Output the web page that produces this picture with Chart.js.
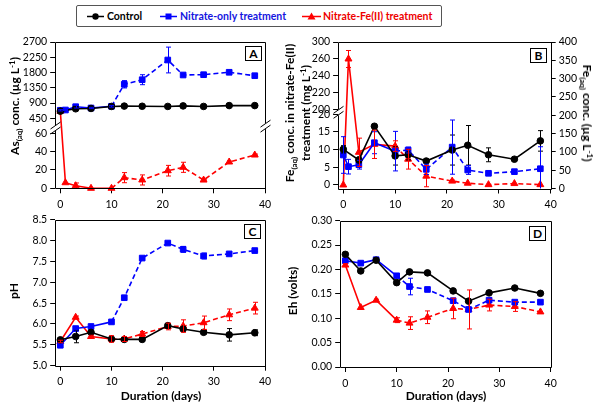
<!DOCTYPE html>
<html><head><meta charset="utf-8">
<script src="https://cdn.jsdelivr.net/npm/chart.js@4.4.1/dist/chart.umd.min.js"></script>
<style>
body{margin:0;width:600px;height:409px;position:relative;background:#fff;font-family:Lato,"Open Sans",sans-serif;overflow:hidden}
canvas{position:absolute;left:0;top:0}
.t{position:absolute;white-space:nowrap;font-weight:bold;font-size:12px;color:#000;line-height:16px;text-align:center}
.rl{transform:translate(-50%,-50%) rotate(-90deg)}
.rr{transform:translate(-50%,-50%) rotate(90deg)}
.c{transform:translate(-50%,-50%)}
sub,sup{font-size:8px;line-height:0;position:relative;vertical-align:baseline}
sub{top:2.5px}
sup{top:-4.5px}
.pl{position:absolute;box-sizing:border-box;border:1.5px solid #000;font-weight:bold;font-size:12px;line-height:12px;display:flex;align-items:center;justify-content:center;background:#fff}
#legend{position:absolute;left:76px;top:5px;width:366px;height:22px;box-sizing:border-box;border:1px solid #555;border-radius:2px;background:#fff}
.li{position:absolute;top:0;height:20px;line-height:20px;font-weight:bold;font-size:10.5px;white-space:nowrap}
</style></head><body>
<canvas id="cA" width="600" height="409"></canvas>
<canvas id="cB" width="600" height="409"></canvas>
<canvas id="cC" width="600" height="409"></canvas>
<canvas id="cD" width="600" height="409"></canvas>

<div id="legend">
  <svg style="position:absolute;left:0;top:0" width="366" height="22">
    <line x1="10" y1="10.5" x2="27" y2="10.5" stroke="#000" stroke-width="1.5"/>
    <circle cx="18.5" cy="10.5" r="3.2" fill="#000"/>
    <line x1="83" y1="10.5" x2="100" y2="10.5" stroke="#0000ff" stroke-width="1.5"/>
    <rect x="88.5" y="7.5" width="6" height="6" fill="#0000ff"/>
    <line x1="225" y1="10.5" x2="244" y2="10.5" stroke="#ff0000" stroke-width="1.5"/>
    <polygon points="234.5,6.5 238.5,13.5 230.5,13.5" fill="#ff0000"/>
  </svg>
  <div class="li" style="left:30px;color:#000">Control</div>
  <div class="li" style="left:103px;color:#1515e0">Nitrate-only treatment</div>
  <div class="li" style="left:246px;color:#ee0000">Nitrate-Fe(II) treatment</div>
</div>

<div class="t rl" style="left:15px;top:106px">As<sub>(aq)</sub> conc. (µg L<sup>-1</sup>)</div>
<div class="t rl" style="left:298px;top:113px">Fe<sub>(aq)</sub> conc. in nitrate-Fe(II)<br>treatment (mg L<sup>-1</sup>)</div>
<div class="t rr" style="left:587px;top:113px">Fe<sub>(aq)</sub> conc. (µg L<sup>-1</sup>)</div>
<div class="t rl" style="left:14px;top:291px">pH</div>
<div class="t rl" style="left:293px;top:291px">Eh (volts)</div>
<div class="t c" style="left:161px;top:396px">Duration (days)</div>
<div class="t c" style="left:446px;top:396px">Duration (days)</div>

<div class="pl" style="left:245px;top:46px;width:17px;height:15px">A</div>
<div class="pl" style="left:530px;top:48px;width:17px;height:15px">B</div>
<div class="pl" style="left:244px;top:224px;width:17px;height:15px">C</div>
<div class="pl" style="left:529px;top:226px;width:17px;height:15px">D</div>

<script>
// ---------------- DATA ----------------
const DAYS = [0, 1, 3, 6, 10, 12.5, 16, 21, 24, 28, 33, 38];
const X_TICKS = [0, 10, 20, 30, 40];

// Panel A: As(aq) conc. (ug/L)
const A_CONTROL     = [660, null, 730, 740, 800, 810, 805, 800, 815, 800, 825, 825];
const A_CONTROL_ERR = [10, 0, 15, 10, 10, 10, 10, 10, 10, 10, 10, 10];
const A_NITRATE     = [686, 695, 792, 754, 804, 1453, 1588, 2169, 1727, 1736, 1807, 1706];
const A_NITRATE_ERR = [20, 15, 40, 20, 25, 108, 147, 380, 30, 25, 50, 30];
const A_FE          = [656, 6.1, 2.8, 0, 0, 11.6, 9.1, 19.2, 22.9, 9, 28.7, 36.3];
const A_FE_ERR      = [0, 0, 3, 0, 0, 5.5, 5.5, 5.8, 5.5, 1, 1, 1];
const A_Y_TICKS  = [0, 20, 40, 60, 450, 900, 1350, 1800, 2250, 2700];
const A_Y_LABELS = ['0', '20', '40', '60', '450', '900', '1350', '1800', '2250', '2700'];

// Panel B: Fe(aq) conc. -- control & nitrate-only (ug/L, right axis), nitrate-Fe(II) (mg/L, left axis)
const B_CONTROL     = [107, null, 78, 170, 89, 92, 75, 105, 118, 92, 80, 130];
const B_CONTROL_ERR = [10, 0, 8, 5, 25, 14, 5, 41, 54, 19, 3, 28];
const B_NITRATE     = [91.5, 59.6, 65, 125, 102, 105, 52.3, 113, 50.5, 41.5, 46, 54];
const B_NITRATE_ERR = [50, 20, 12, 30, 54, 8, 14, 74, 12, 3, 5, 60];
const B_FE          = [0, 260, 9.25, 11.5, 11.0, 7.3, 2.5, 1.1, 0.5, 0.1, 0.4, 0.1];
const B_FE_ERR      = [0, 10, 4, 4, 1.5, 2.8, 3, 0.3, 0, 0, 0, 0];
const B_Y_TICKS  = [0, 5, 10, 15, 20, 200, 220, 240, 260, 280];
const B_Y_LABELS = ['0', '5', '10', '15', '20', '200', '220', '240', '260', '300'];
const B_Y2_TICKS = [0, 50, 100, 150, 200, 250, 300, 350, 400];

// Panel C: pH
const C_CONTROL     = [5.62, null, 5.70, 5.80, 5.64, 5.63, 5.63, 5.96, 5.88, 5.80, 5.74, 5.79];
const C_CONTROL_ERR = [0.03, 0, 0.15, 0.03, 0.03, 0.02, 0.02, 0.05, 0.05, 0.04, 0.15, 0.07];
const C_NITRATE     = [5.49, null, 5.89, 5.94, 6.05, 6.63, 7.58, 7.94, 7.79, 7.63, 7.68, 7.76];
const C_NITRATE_ERR = [0.02, 0, 0.03, 0.02, 0.02, 0.02, 0.02, 0.02, 0.07, 0.07, 0.02, 0.02];
const C_FE          = [5.58, null, 6.16, 5.70, 5.64, 5.64, 5.76, 5.94, 5.95, 6.03, 6.22, 6.38];
const C_FE_ERR      = [0.03, 0, 0.03, 0.03, 0.08, 0.06, 0.06, 0.08, 0.15, 0.16, 0.14, 0.14];
const C_Y_TICKS = [5.0, 5.5, 6.0, 6.5, 7.0, 7.5, 8.0, 8.5];

// Panel D: Eh (volts)
const D_CONTROL     = [0.231, null, 0.197, 0.219, 0.173, 0.195, 0.193, 0.156, 0.135, 0.152, 0.162, 0.151];
const D_CONTROL_ERR = [0, 0, 0, 0, 0, 0, 0, 0, 0, 0, 0, 0];
const D_NITRATE     = [0.218, null, 0.213, 0.220, 0.187, 0.165, 0.159, 0.136, 0.118, 0.137, 0.133, 0.133];
const D_NITRATE_ERR = [0, 0, 0, 0, 0, 0.017, 0.004, 0.003, 0, 0.003, 0.003, 0];
const D_FE          = [0.209, null, 0.122, 0.137, 0.096, 0.090, 0.102, 0.120, 0.118, 0.127, 0.124, 0.113];
const D_FE_ERR      = [0.003, 0, 0, 0.002, 0.005, 0.013, 0.013, 0.021, 0.04, 0.012, 0.01, 0];
const D_Y_TICKS = [0, 0.05, 0.10, 0.15, 0.20, 0.25, 0.30];

// ---------------- STYLE ----------------
const FONT = {family: 'Lato', size: 10.5};
const BLACK = '#000000', BLUE = '#0000ff', RED = '#ff0000';
const DASH_FROM = 10;

function makeBroken(id, segs) {
  class Broken extends Chart.LinearScale {
    getPixelForValue(v) {
      if (v === null || v === undefined || isNaN(v)) return NaN;
      const s = v <= segs[0].v1 ? segs[0] : segs[1];
      const f = s.f0 + (v - s.v0) / (s.v1 - s.v0) * (s.f1 - s.f0);
      return this.bottom - f * (this.bottom - this.top);
    }
    getValueForPixel(p) {
      const f = (this.bottom - p) / (this.bottom - this.top);
      const s = f <= (segs[0].f1 + segs[1].f0) / 2 ? segs[0] : segs[1];
      return s.v0 + (f - s.f0) / (s.f1 - s.f0) * (s.v1 - s.v0);
    }
  }
  Broken.id = id;
  Broken.defaults = Chart.LinearScale.defaults;
  Chart.register(Broken);
}
makeBroken('brokenA', [{v0: 0, v1: 60, f0: 0, f1: 0.376}, {v0: 450, v1: 2700, f0: 0.4785, f1: 1}]);
makeBroken('brokenB', [{v0: 0, v1: 20, f0: 0.024, f1: 0.5065}, {v0: 200, v1: 280, f0: 0.536, f1: 1}]);

function pts(vals, errs) {
  const out = [];
  DAYS.forEach((d, i) => { if (vals[i] !== null) out.push({x: d, y: vals[i], e: errs ? errs[i] : 0}); });
  return out;
}
function ds(label, vals, errs, color, style, dashed, yAxisID) {
  return {
    label, data: pts(vals, errs), yAxisID: yAxisID || 'y',
    borderColor: color, backgroundColor: color, borderWidth: 1.6,
    pointStyle: style, pointRadius: style === 'circle' ? 3.3 : 4, pointBorderWidth: 1,
    pointBackgroundColor: color, pointBorderColor: color, clip: false,
    segment: dashed ? {borderDash: c => c.p0.parsed.x >= DASH_FROM ? [5, 3] : undefined} : undefined
  };
}

const framePlugin = {
  id: 'frame',
  afterDraw(chart, args, opts) {
    const {left, right, top, bottom} = chart.chartArea;
    const ctx = chart.ctx;
    const L = Math.round(left) + 0.5, R = Math.round(right) + 0.5, T = Math.round(top) + 0.5, B = Math.round(bottom) + 0.5;
    ctx.save();
    ctx.strokeStyle = '#000'; ctx.lineWidth = 1;
    const ln = (x1, y1, x2, y2) => { ctx.beginPath(); ctx.moveTo(x1, y1); ctx.lineTo(x2, y2); ctx.stroke(); };
    ln(L, T, R, T); ln(L, B, R, B);
    const side = (x, br) => {
      if (br === undefined || br === null) { ln(x, T, x, B); return; }
      const y = bottom - br * (bottom - top);
      ln(x, T, x, y - 3); ln(x, y + 3, x, B);
      ctx.lineWidth = 1;
      ln(x - 5, y + 1, x + 5, y - 6);
      ln(x - 5, y + 6, x + 5, y - 1);
    };
    side(L, opts.breakL); side(R, opts.breakR);
    ctx.restore();
  }
};
const errPlugin = {
  id: 'errbars',
  afterDatasetsDraw(chart) {
    const ctx = chart.ctx, ca = chart.chartArea;
    chart.data.datasets.forEach((d, di) => {
      const meta = chart.getDatasetMeta(di);
      const xs = chart.scales[meta.xAxisID], ys = chart.scales[meta.yAxisID];
      ctx.save();
      ctx.beginPath(); ctx.rect(ca.left, ca.top - 30, ca.right - ca.left, ca.bottom - ca.top + 30); ctx.clip();
      ctx.strokeStyle = d.borderColor; ctx.lineWidth = 1;
      d.data.forEach(p => {
        if (!p.e) return;
        const x = Math.round(xs.getPixelForValue(p.x)) + 0.5;
        const y1 = ys.getPixelForValue(p.y + p.e), y2 = ys.getPixelForValue(p.y - p.e);
        ctx.beginPath();
        ctx.moveTo(x, y1); ctx.lineTo(x, y2);
        ctx.moveTo(x - 2.5, y1); ctx.lineTo(x + 2.5, y1);
        ctx.moveTo(x - 2.5, y2); ctx.lineTo(x + 2.5, y2);
        ctx.stroke();
      });
      ctx.restore();
    });
  }
};

const YW = 40, XH = 22, RW = 30;
function xScale() {
  return {
    type: 'linear', min: -1, max: 40,
    afterBuildTicks: s => { s.ticks = X_TICKS.map(v => ({value: v})); },
    afterFit: s => { s.height = XH; },
    ticks: {font: FONT, color: '#000', padding: 5, autoSkip: false, maxRotation: 0},
    grid: {drawOnChartArea: false, color: '#000', tickLength: 5},
    border: {display: false}
  };
}
function yScale(type, min, max, tickVals, labelFn, position, width) {
  return {
    type, min, max, position: position || 'left',
    afterBuildTicks: s => { s.ticks = tickVals.map(v => ({value: v})); },
    afterFit: s => { s.width = width || YW; },
    ticks: {font: FONT, color: '#000', padding: 3, autoSkip: false, callback: labelFn},
    grid: {drawOnChartArea: false, color: '#000', tickLength: 5},
    border: {display: false}
  };
}
function make(id, area, scales, datasets, frame, hasRight) {
  return new Chart(document.getElementById(id), {
    type: 'line',
    data: {datasets},
    options: {
      responsive: false, animation: false, devicePixelRatio: 1,
      layout: {padding: {left: area.l - YW, right: 600 - area.r - (hasRight ? RW : 0), top: area.t, bottom: 409 - area.b - XH}},
      scales,
      plugins: {legend: {display: false}, tooltip: {enabled: false}, frame}
    },
    plugins: [framePlugin, errPlugin]
  });
}

make('cA', {l: 55.2, r: 265, t: 42, b: 188.3},
  {x: xScale(), y: yScale('brokenA', 0, 2700, A_Y_TICKS, (v, i) => A_Y_LABELS[i])},
  [ds('Control', A_CONTROL, A_CONTROL_ERR, BLACK, 'circle', false),
   ds('Nitrate-only treatment', A_NITRATE, A_NITRATE_ERR, BLUE, 'rect', true),
   ds('Nitrate-Fe(II) treatment', A_FE, A_FE_ERR, RED, 'triangle', true)],
  {breakL: 0.412, breakR: 0.425}, false);

make('cB', {l: 338.1, r: 550.7, t: 42, b: 188.5},
  {x: xScale(),
   y: yScale('brokenB', 0, 280, B_Y_TICKS, (v, i) => B_Y_LABELS[i]),
   y2: yScale('linear', 0, 400, B_Y2_TICKS, v => String(v), 'right', RW)},
  [ds('Control', B_CONTROL, B_CONTROL_ERR, BLACK, 'circle', false, 'y2'),
   ds('Nitrate-only treatment', B_NITRATE, B_NITRATE_ERR, BLUE, 'rect', true, 'y2'),
   ds('Nitrate-Fe(II) treatment', B_FE, B_FE_ERR, RED, 'triangle', true, 'y')],
  {breakL: 0.52}, true);

make('cC', {l: 55.2, r: 265, t: 219.7, b: 365.7},
  {x: xScale(), y: yScale('linear', 5, 8.5, C_Y_TICKS, v => v.toFixed(1))},
  [ds('Control', C_CONTROL, C_CONTROL_ERR, BLACK, 'circle', false),
   ds('Nitrate-only treatment', C_NITRATE, C_NITRATE_ERR, BLUE, 'rect', true),
   ds('Nitrate-Fe(II) treatment', C_FE, C_FE_ERR, RED, 'triangle', true)],
  {}, false);

make('cD', {l: 340.2, r: 550.7, t: 220.7, b: 367},
  {x: xScale(), y: yScale('linear', 0, 0.30, D_Y_TICKS, v => v.toFixed(2))},
  [ds('Control', D_CONTROL, D_CONTROL_ERR, BLACK, 'circle', false),
   ds('Nitrate-only treatment', D_NITRATE, D_NITRATE_ERR, BLUE, 'rect', true),
   ds('Nitrate-Fe(II) treatment', D_FE, D_FE_ERR, RED, 'triangle', true)],
  {}, false);
</script>
</body></html>
